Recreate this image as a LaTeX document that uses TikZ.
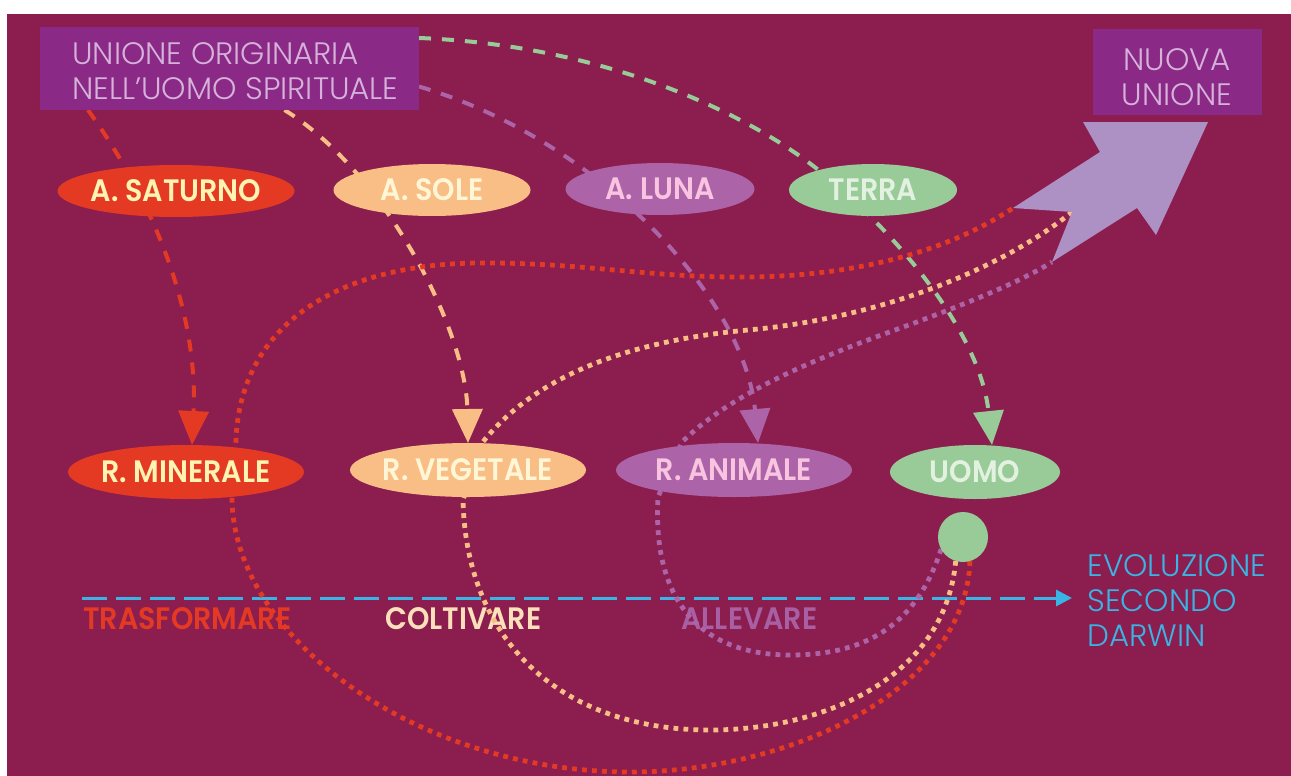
\documentclass[tikz,border=0pt]{standalone}
\usepackage{fontspec}
\usetikzlibrary{shapes.geometric,arrows.meta,calc}
\IfFontExistsTF{Poppins Light}{\newfontfamily\thinfont{Poppins Light}}{\newfontfamily\thinfont{Poppins}}
\IfFontExistsTF{Poppins SemiBold}{\newfontfamily\heavyfont{Poppins SemiBold}[FakeStretch=0.92]}{\newfontfamily\heavyfont{Poppins}[FakeBold=1,FakeStretch=0.92]}

\definecolor{bgc}{RGB}{139,30,78}
\definecolor{boxc}{RGB}{138,42,134}
\definecolor{boxtxt}{RGB}{214,178,218}
\definecolor{arrowc}{RGB}{174,145,196}
\definecolor{redc}{RGB}{228,58,36}
\definecolor{redtxt}{RGB}{255,244,178}
\definecolor{solc}{RGB}{248,190,133}
\definecolor{soltxt}{RGB}{255,246,214}
\definecolor{lunc}{RGB}{173,99,167}
\definecolor{luntxt}{RGB}{248,196,224}
\definecolor{terc}{RGB}{152,203,152}
\definecolor{tertxt}{RGB}{226,241,224}
\definecolor{bluec}{RGB}{58,180,228}
\definecolor{coltxt}{RGB}{252,224,188}
\definecolor{alltxt}{RGB}{169,95,163}

\pgfdeclarelayer{back}
\pgfdeclarelayer{lines}
\pgfsetlayers{back,lines,main}

\begin{document}
\begin{tikzpicture}[x=0.5pt,y=-0.5pt,
  boxnode/.style={rectangle, fill=boxc, inner sep=0pt, outer sep=0pt},
  boxtext/.style={text=boxtxt, inner sep=0pt, font=\thinfont\fontsize{15.5pt}{17.5pt}\selectfont},
  ell/.style={ellipse, inner sep=0pt, outer sep=0pt},
  toprow/.style={ell, minimum height=26pt},
  botrow/.style={ell, minimum height=27pt},
  elltext/.style={inner sep=0pt, font=\heavyfont\fontsize{15.5pt}{17.5pt}\selectfont},
  verb/.style={anchor=west, inner sep=0pt, font=\heavyfont\fontsize{15.5pt}{17.5pt}\selectfont},
  dasharrow/.style={line width=2pt, dash pattern=on 6pt off 5.5pt, -{Triangle[length=17pt,width=15pt]}},
  dotline/.style={line width=2.4pt, dash pattern=on 2.4pt off 2.6pt},
  bluedash/.style={bluec, line width=1.5pt, dash pattern=on 12.5pt off 4.5pt, -{Triangle[length=8pt,width=8pt]}}
]
\useasboundingbox (0,0) rectangle (1291,776);

% ground
\begin{pgfonlayer}{back}
  \fill[white] (0,0) rectangle (1291,776);
  \fill[bgc] (7,14) rectangle (1291,776);
\end{pgfonlayer}

% title boxes
\node[boxnode, minimum width=189.5pt, minimum height=41.5pt] (orig) at (229.5,68.5) {};
\node[boxtext, anchor=west, align=left] (origtxt) at (72,71.5) {UNIONE ORIGINARIA\\NELL’UOMO SPIRITUALE};
\node[boxnode, minimum width=84.5pt, minimum height=43pt] (nuova) at (1177.5,72) {};
\node[boxtext, align=center] (nuovatxt) at (1177,77) {NUOVA\\UNIONE};

% upper row: planetary stages
\node[toprow, fill=redc, minimum width=118.5pt] (sat) at (176,191) {};
\node[elltext, text=redtxt] (sattxt) at (sat) {A. SATURNO};
\node[toprow, fill=solc, minimum width=98.5pt] (sol) at (432,190) {};
\node[elltext, text=soltxt] (soltxt) at (sol) {A. SOLE};
\node[toprow, fill=lunc, minimum width=94.5pt] (lun) at (660,189) {};
\node[elltext, text=luntxt] (luntxt) at (lun) {A. LUNA};
\node[toprow, fill=terc, minimum width=84pt] (ter) at (873,190) {};
\node[elltext, text=tertxt] (tertxt) at (ter) {TERRA};

% lower row: kingdoms
\node[botrow, fill=redc, minimum width=118pt] (min) at (186,472) {};
\node[elltext, text=redtxt] (mintxt) at (min) {R. MINERALE};
\node[botrow, fill=solc, minimum width=118pt] (veg) at (468,470) {};
\node[elltext, text=soltxt] (vegtxt) at (veg) {R. VEGETALE};
\node[botrow, fill=lunc, minimum width=118pt] (ani) at (734,470) {};
\node[elltext, text=luntxt] (anitxt) at (ani) {R. ANIMALE};
\node[botrow, fill=terc, minimum width=85pt] (uom) at (975,472) {};
\node[elltext, text=tertxt] (uomtxt) at (uom) {UOMO};
\node[circle, fill=terc, minimum size=25pt, inner sep=0pt, outer sep=0pt] (cir) at (963,537) {};

% tail corners of the large arrow
\coordinate (tailA) at (1013,208);
\coordinate (tailN) at (1072,212);
\coordinate (tailB) at (1052,262);

\begin{pgfonlayer}{lines}
  % activity labels
  \node[verb, text=redc] (trasf) at (83,619) {TRASFORMARE};
  \node[verb, text=coltxt] (colt) at (385,619) {COLTIVARE};
  \node[verb, text=alltxt] (allev) at (681,619) {ALLEVARE};

  % descent from the original union
  \draw[dasharrow, redc] ($(orig.south west)+(48,0)$) .. controls (160,210) and (198,320) .. ($(min.north)+(6,0)$);
  \draw[dasharrow, solc] ($(orig.south)+(55,0)$) .. controls (385,172) and (466,330) .. (veg.north);
  \draw[dasharrow, lunc] ($(orig.east)+(0,18)$) .. controls (600,140) and (745,300) .. ($(ani.north)+(24,0)$);
  \draw[dasharrow, terc] ($(orig.north east)+(0,11)$) .. controls (600,45) and (740,110) .. (812,165)
        .. controls (890,225) and (980,330) .. ($(uom.north)+(17,0)$);

  % Darwinian evolution axis
  \coordinate (dstart) at (82,598);
  \coordinate (dend) at (1072,598);
  \draw[bluedash] (dstart) -- (dend);

  % loops from man through each kingdom to the new union
  \draw[dotline, redc] (cir.-74) .. controls (966,690) and (790,772) .. (630,772)
        .. controls (420,772) and (235,640) .. (232,500) -- (236,440)
        .. controls (240,330) and (330,265) .. (476,263)
        .. controls (580,262) and (650,278) .. (748,277)
        .. controls (860,276) and (950,250) .. (tailA);
  \draw[dotline, solc] (cir.-107) .. controls (945,680) and (820,730) .. (710,730)
        .. controls (560,730) and (466,640) .. (463,500) -- (482,443)
        .. controls (540,370) and (640,340) .. (748,330)
        .. controls (880,318) and (1000,270) .. (tailN);
  \draw[dotline, lunc] (cir.-151) .. controls (915,630) and (860,655) .. (790,655)
        .. controls (700,655) and (652,600) .. (658,497) -- (682,442)
        .. controls (740,385) and (840,350) .. (917,322)
        .. controls (970,302) and (1020,282) .. (tailB);
\end{pgfonlayer}

% large arrow towards the new union
\fill[arrowc] (1083,122) -- (1208,122) -- (1156,235) -- (1137,208) -- (tailB) -- (tailN) -- (tailA) -- (1100,152) -- cycle;

% caption of the axis
\node[boxtext, text=bluec, anchor=west, align=left] (evo) at (1087,601) {EVOLUZIONE\\SECONDO\\DARWIN};
\end{tikzpicture}
\end{document}
